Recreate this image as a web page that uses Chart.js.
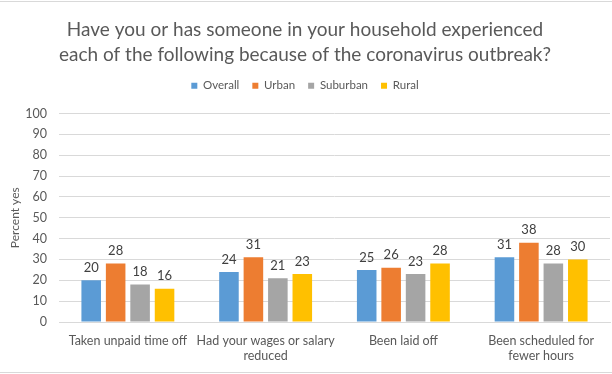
<!DOCTYPE html>
<html>
<head>
<meta charset="utf-8">
<script src="https://cdn.jsdelivr.net/npm/chart.js@4.4.0/dist/chart.umd.min.js"></script>
<style>
html,body{margin:0;padding:0;background:#fff;}
#wrap{position:relative;width:612px;height:374px;}
</style>
</head>
<body>
<div id="wrap"><canvas id="c" width="612" height="374"></canvas></div>
<script>
const categories = [
  "Taken unpaid time off",
  ["Had your wages or salary", "reduced"],
  "Been laid off",
  ["Been scheduled for", "fewer hours"]
];
const seriesNames = ["Overall", "Urban", "Suburban", "Rural"];
const overall = [20, 24, 25, 31];
const urban = [28, 31, 26, 38];
const suburban = [18, 21, 23, 28];
const rural = [16, 23, 28, 30];
const colors = ["#5B9BD5", "#ED7D31", "#A5A5A5", "#FFC000"];
const titleLines = [
  "Have you or has someone in your household experienced",
  "each of the following because of the coronavirus outbreak?"
];
const FONT = "Lato, 'Open Sans', sans-serif";

const valueLabels = {
  id: 'valueLabels',
  afterDatasetsDraw(chart) {
    const ctx = chart.ctx;
    ctx.save();
    ctx.font = "13px " + FONT;
    ctx.fillStyle = "#404040";
    ctx.textAlign = "center";
    ctx.textBaseline = "bottom";
    chart.data.datasets.forEach((ds, i) => {
      const meta = chart.getDatasetMeta(i);
      meta.data.forEach((bar, j) => {
        ctx.fillText(String(ds.data[j]), bar.x, bar.y - 6);
      });
    });
    ctx.restore();
  }
};
const legendExtra = {
  id: 'legendExtra',
  beforeLayout(chart) {
    const lg = chart.legend;
    if (lg && !lg._patched) {
      const orig = lg.fit;
      lg.fit = function () { orig.call(this); this.height += 12; };
      lg._patched = true;
    }
  }
};
const frame = {
  id: 'frame',
  afterDraw(chart) {
    const ctx = chart.ctx;
    ctx.save();
    ctx.strokeStyle = "#d9d9d9";
    ctx.lineWidth = 1;
    ctx.beginPath();
    ctx.moveTo(0, 1.5); ctx.lineTo(612, 1.5);
    ctx.moveTo(0, 372.5); ctx.lineTo(612, 372.5);
    ctx.stroke();
    ctx.restore();
  }
};

const datasets = [overall, urban, suburban, rural].map((d, i) => ({
  label: seriesNames[i],
  data: d,
  backgroundColor: colors[i],
  borderWidth: 0,
  categoryPercentage: 0.71,
  barPercentage: 0.8
}));

new Chart(document.getElementById('c'), {
  type: 'bar',
  data: { labels: categories, datasets },
  options: {
    responsive: false,
    animation: false,
    devicePixelRatio: 1,
    layout: { padding: { left: 0, right: 2, top: 6, bottom: 0 } },
    plugins: {
      title: {
        display: true,
        text: titleLines,
        color: "#595959",
        font: { family: FONT, size: 19, weight: 'normal', lineHeight: 1.316 },
        padding: { top: 11, bottom: 0 }
      },
      legend: {
        display: true,
        position: 'top',
        labels: {
          boxWidth: 6, boxHeight: 6,
          color: "#595959",
          font: { family: FONT, size: 11.5 },
          padding: 13
        }
      },
      tooltip: { enabled: false }
    },
    scales: {
      x: {
        grid: { display: false, drawTicks: false },
        border: { display: true, color: "#d9d9d9" },
        ticks: { color: "#595959", font: { family: FONT, size: 12.5 }, maxRotation: 0, autoSkip: false, padding: 11 }
      },
      y: {
        min: 0, max: 100,
        afterFit(scale) { scale.width = 59; },
        ticks: { stepSize: 10, color: "#595959", font: { family: FONT, size: 12.5 }, padding: 12 },
        grid: { color: "#d9d9d9", drawTicks: false },
        border: { display: false },
        title: { display: true, text: "Percent yes", color: "#595959", font: { family: FONT, size: 12 }, padding: { top: 8, bottom: 0 } }
      }
    }
  },
  plugins: [valueLabels, legendExtra, frame]
});
</script>
</body>
</html>
